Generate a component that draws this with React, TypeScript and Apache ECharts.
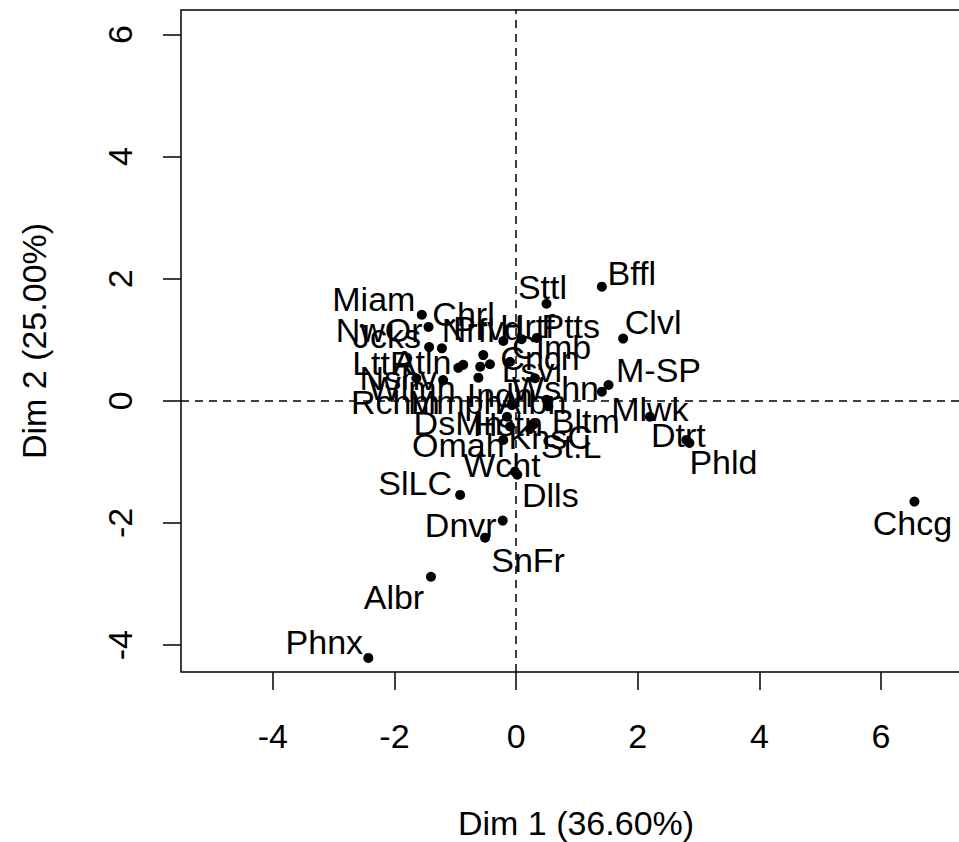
import React, { useEffect, useRef } from "react";
import * as echarts from "echarts";

// City abbreviations (labels)
const cities = [
  "Bffl", "Sttl", "Clvl", "M-SP", "Bltm", "Mlwk", "Dtrt", "Phld", "Chcg",
  "Dlls", "Wcht", "SlLC", "Dnvr", "SnFr", "Albr", "Phnx",
  "Miam", "Chrl", "NwOr", "Jcks", "LttR", "Atln", "Nshv", "Wlmn", "Nrfl",
  "Prvd", "Mmph", "Rchm", "Hrtf", "Clmb", "Ptts", "Cncn", "Lsvl", "Wshn",
  "Albn", "Indn", "DsMn", "Hstn", "KnsC", "St.L", "Omah",
];

// Dim 1 coordinates
const dim1 = [
  1.41, 0.5, 1.76, 1.52, 1.41, 2.2, 2.8, 2.85, 6.55,
  0.02, -0.02, -0.92, -0.22, -0.51, -1.4, -2.43,
  -1.55, -1.44, -1.43, -1.22, -0.95, -0.87, -1.64, -1.2, -0.54,
  -0.43, -0.59, -0.62, -0.21, 0.09, 0.34, -0.1, 0.31, 0.5,
  0.53, -0.07, -0.15, -0.1, 0.28, 0.23, -0.21,
];

// Dim 2 coordinates
const dim2 = [
  1.87, 1.59, 1.02, 0.26, 0.15, -0.26, -0.64, -0.69, -1.65,
  -1.21, -1.16, -1.54, -1.96, -2.24, -2.88, -4.21,
  1.41, 1.21, 0.88, 0.86, 0.54, 0.59, 0.37, 0.34, 0.75,
  0.6, 0.56, 0.38, 0.98, 1.01, 1.03, 0.64, 0.37, 0.02,
  -0.09, -0.07, -0.26, -0.42, -0.39, -0.46, -0.64,
];

const xTicks = [-4, -2, 0, 2, 4, 6];
const yTicks = [-4, -2, 0, 2, 4, 6];

// label placement (pixel offsets from point), styling only
const labelOffsets: Record<string, [number, number]> = {
  Bffl: [30, -14], Sttl: [-4, -17], Clvl: [30, -17], "M-SP": [50, -15],
  Bltm: [-16, 29], Mlwk: [0, -8], Dtrt: [-8, -5], Phld: [34, 19],
  Chcg: [-2, 21], Dlls: [33, 20], Wcht: [-13, -7], SlLC: [-45, -12],
  Dnvr: [-42, 4], SnFr: [43, 22], Albr: [-37, 20], Phnx: [-44, -16],
  Miam: [-48, -16], Chrl: [35, -13], NwOr: [-50, -17], Jcks: [-55, -12],
  LttR: [-75, -5], Atln: [-41, -3], Nshv: [-18, 0], Wlmn: [-31, 8],
  Nrfl: [-15, -25], Prvd: [-2, -36], Mmph: [-25, 35], Rchm: [-83, 24],
  Hrtf: [24, -15], Clmb: [30, 8], Ptts: [34, -12], Cncn: [30, -4],
  Lsvl: [-3, -8], Wshn: [9, -12], Albn: [-16, -4], Indn: [-12, -10],
  DsMn: [-49, 6], Hstn: [-2, -2], KnsC: [17, 12], "St.L": [41, 17],
  Omah: [-45, 5],
};

const FONT = "'Liberation Sans', Arial, sans-serif";

export default function App() {
  const ref = useRef<HTMLDivElement>(null);
  useEffect(() => {
    if (!ref.current) return;
    const chart = echarts.init(ref.current, null, { renderer: "svg" });
    const data = cities.map((c, i) => ({
      name: c,
      value: [dim1[i], dim2[i]],
      label: { offset: labelOffsets[c] || [0, -14] },
    }));
    chart.setOption({
      animation: false,
      backgroundColor: "#fff",
      textStyle: { fontFamily: FONT },
      grid: {
        left: 181,
        top: 10,
        width: 790,
        height: 662,
        show: true,
        borderColor: "#000",
        borderWidth: 1.5,
        backgroundColor: "transparent",
        containLabel: false,
        outerBoundsMode: "none",
      },
      xAxis: {
        type: "value",
        min: -5.51,
        max: 7.48,
        position: "bottom",
        axisLine: { show: false, onZero: false },
        splitLine: { show: false },
        axisTick: {
          show: true,
          inside: false,
          length: 18,
          customValues: xTicks,
          lineStyle: { color: "#000", width: 1.5 },
        },
        axisLabel: {
          customValues: xTicks,
          color: "#000",
          fontSize: 34,
          fontFamily: FONT,
          margin: 47,
        },
        name: "Dim 1 (36.60%)",
        nameLocation: "middle",
        nameGap: 134,
        nameTextStyle: { color: "#000", fontSize: 34, fontFamily: FONT },
      },
      yAxis: {
        type: "value",
        min: -4.44,
        max: 6.4,
        position: "left",
        axisLine: { show: false, onZero: false },
        splitLine: { show: false },
        axisTick: {
          show: true,
          inside: false,
          length: 18,
          customValues: yTicks,
          lineStyle: { color: "#000", width: 1.5 },
        },
        axisLabel: {
          customValues: yTicks,
          rotate: 90,
          color: "#000",
          fontSize: 34,
          fontFamily: FONT,
          margin: 44,
        },
        name: "Dim 2 (25.00%)",
        nameLocation: "middle",
        nameGap: 130,
        nameTextStyle: { color: "#000", fontSize: 34, fontFamily: FONT },
      },
      series: [
        {
          type: "scatter",
          symbol: "circle",
          symbolSize: 10,
          itemStyle: { color: "#000", opacity: 1 },
          data,
          label: {
            show: true,
            position: "inside",
            formatter: "{b}",
            color: "#000",
            fontSize: 34,
            fontFamily: FONT,
          },
          markLine: {
            silent: true,
            symbol: ["none", "none"],
            label: { show: false },
            lineStyle: { color: "#000", width: 1.5, type: [8, 6], opacity: 1 },
            data: [{ xAxis: 0 }, { yAxis: 0 }],
          },
          z: 3,
        },
      ],
    });
    return () => chart.dispose();
  }, []);
  return (
    <div
      style={{
        position: "fixed",
        left: 0,
        top: 0,
        width: 959,
        height: 842,
        overflow: "hidden",
        background: "#fff",
      }}
    >
      <div ref={ref} style={{ width: 1000, height: 842 }} />
    </div>
  );
}
